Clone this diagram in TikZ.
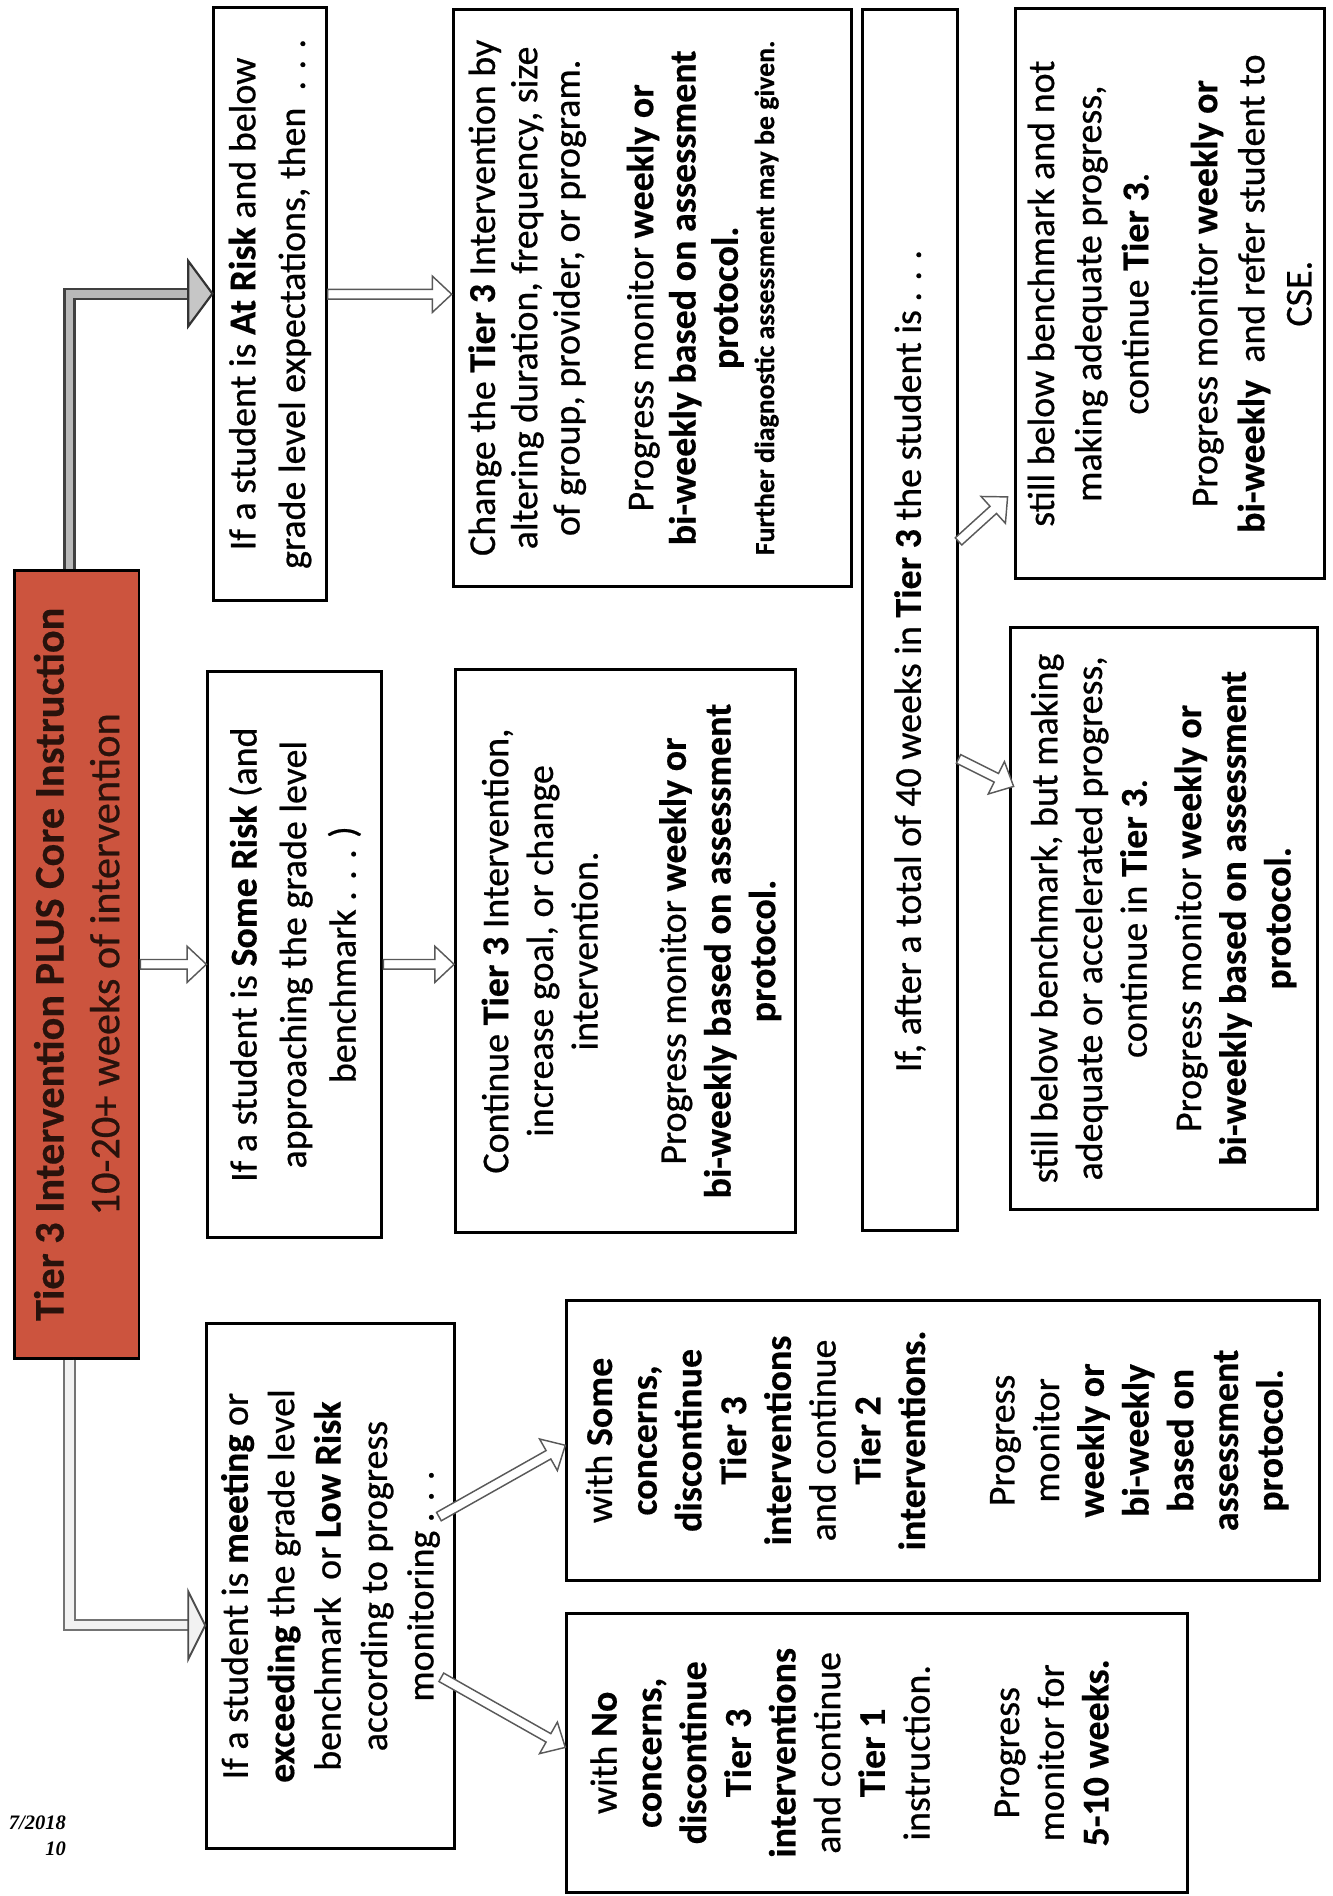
\documentclass[tikz,border=0pt]{standalone}
\usepackage{fontspec}
\setmainfont{Carlito}[UprightFeatures={FakeBold=0.6},BoldFeatures={FakeBold=0.4}]
\newfontfamily\datefont{Liberation Serif}
\usetikzlibrary{calc,fit}
\definecolor{redbox}{RGB}{204,84,62}
\definecolor{titletext}{RGB}{40,18,12}
\tikzset{
  box/.style={draw=black, line width=1.2pt, fill=white, inner sep=0pt},
  txt/.style={rotate=90, align=center, inner sep=0pt},
  hol/.style={draw=black!65, fill=white, line width=0.6pt, line join=miter},
  blk/.style={to path={
    let \p1=($(\tikztotarget)!8pt!(\tikztostart)$) in
    ($(\tikztostart)!2pt!90:(\tikztotarget)$) --
    ($(\p1)!2pt!90:(\tikztotarget)$) --
    ($(\p1)!7.5pt!90:(\tikztotarget)$) --
    (\tikztotarget) --
    ($(\p1)!7.5pt!-90:(\tikztotarget)$) --
    ($(\p1)!2pt!-90:(\tikztotarget)$) --
    ($(\tikztostart)!2pt!-90:(\tikztotarget)$) -- cycle}},
  bentA/.style={draw=black!75, double=gray!55, line width=0.9pt, double distance=3.2pt, line join=miter},
  bentheadA/.style={draw=black!80, fill=gray!45, line width=0.9pt, line join=miter},
  bentB/.style={draw=black!55, double=gray!10, line width=0.8pt, double distance=3.4pt, line join=miter},
  bentheadB/.style={draw=black!70, fill=gray!10, line width=0.8pt, line join=miter}
}
\begin{document}
\begin{tikzpicture}[x=0.5pt,y=-0.5pt]
\fill[white] (0,0) rectangle (1103,1569);
\useasboundingbox (0,0) rectangle (1103,1569);

% boxes
\node[box, fill=redbox, fit={(12,472) (115,1124)}] (red) {};
\node[box, fit={(177,6) (270,497)}] (atrisk) {};
\node[box, fit={(375,8) (705,485)}] (change) {};
\node[box, fit={(172,556) (316,1024)}] (somerisk) {};
\node[box, fit={(377,554) (658,1020)}] (cont) {};
\node[box, fit={(171,1095) (376,1530)}] (meet) {};
\node[box, fit={(714,8) (792,1018)}] (weeks) {};
\node[box, fit={(840,7) (1096,479)}] (notadeq) {};
\node[box, fit={(836,519) (1090,1001)}] (making) {};
\node[box, fit={(469,1076) (1092,1308)}] (somec) {};
\node[box, fit={(469,1335) (983,1566)}] (noc) {};

% texts
\node[txt, text=titletext, font=\fontsize{17.5}{23}\selectfont] (redtxt) at (red.center)
  {\textbf{Tier 3 Intervention PLUS Core Instruction}\\10-20+ weeks of intervention};
\node[txt, font=\fontsize{15.7}{20.5}\selectfont] (atrisktxt) at (atrisk.center)
  {If a student is \textbf{At Risk} and below\\grade level expectations, then~ . . .};
\node[txt, font=\fontsize{15.7}{17.5}\selectfont] (changetxt) at ([xshift=-12pt]change.center)
  {Change the \textbf{Tier 3} Intervention by\\ altering duration, frequency, size\\ of group, provider, or program.\\[13pt]
   Progress monitor \textbf{weekly or}\\ \textbf{bi-weekly based on assessment}\\ \textbf{protocol.}\\[-2.5pt]
   {\fontsize{11.5}{13}\selectfont\bfseries Further diagnostic assessment may be given.}};
\node[txt, font=\fontsize{15.7}{20.5}\selectfont] (somerisktxt) at (somerisk.center)
  {If a student is \textbf{Some Risk} (and\\ approaching the grade level\\ benchmark . . . )};
\node[txt, font=\fontsize{15.7}{18.5}\selectfont] (conttxt) at ([xshift=2.5pt]cont.center)
  {Continue \textbf{Tier 3} Intervention,\\ increase goal, or change\\ intervention.\\[18pt]
   Progress monitor \textbf{weekly or}\\ \textbf{bi-weekly based on assessment}\\ \textbf{protocol.}};
\node[txt, font=\fontsize{15.7}{19.2}\selectfont] (meettxt) at (meet.center)
  {If a student is \textbf{meeting} or\\ \textbf{exceeding} the grade level\\ benchmark~ or \textbf{Low Risk}\\ according to progress\\ monitoring . . .};
\node[txt, font=\fontsize{15.7}{19}\selectfont] (weekstxt) at ([yshift=-17pt]weeks.center)
  {If, after a total of 40 weeks in \textbf{Tier 3} the student is . . .};
\node[txt, font=\fontsize{15.7}{19.5}\selectfont] (notadeqtxt) at (notadeq.center)
  {still below benchmark and not\\ making adequate progress,\\ continue \textbf{Tier 3}.\\[9pt]
   Progress monitor \textbf{weekly or}\\ \textbf{bi-weekly}~ and refer student to\\ CSE.};
\node[txt, font=\fontsize{15.7}{18.5}\selectfont] (makingtxt) at (making.center)
  {still below benchmark, but making\\ adequate or accelerated progress,\\ continue in \textbf{Tier 3}.\\[4pt]
   Progress monitor \textbf{weekly or}\\ \textbf{bi-weekly based on assessment}\\ \textbf{protocol.}};
\node[txt, font=\fontsize{15.7}{18.5}\selectfont] (somectxt) at ([xshift=-2.5pt]somec.center)
  {with \textbf{Some}\\ \textbf{concerns,}\\ \textbf{discontinue}\\ \textbf{Tier 3}\\ \textbf{interventions}\\ and continue\\ \textbf{Tier 2}\\ \textbf{interventions.}\\[18.5pt]
   Progress\\ monitor\\ \textbf{weekly or}\\ \textbf{bi-weekly}\\ \textbf{based on}\\ \textbf{assessment}\\ \textbf{protocol.}};
\node[txt, font=\fontsize{15.7}{18.5}\selectfont] (noctxt) at ([xshift=-11.5pt]noc.center)
  {with \textbf{No}\\ \textbf{concerns,}\\ \textbf{discontinue}\\ \textbf{Tier 3}\\ \textbf{interventions}\\ and continue\\ \textbf{Tier 1}\\ instruction.\\[18.5pt]
   Progress\\ monitor for\\ \textbf{5-10 weeks.}};
\node[anchor=east, align=right, inner sep=0pt, font={\datefont\bfseries\itshape\fontsize{8.5}{11}\selectfont}] (date) at (55,1519) {7/2018\\10};

% bent connectors
\draw[bentA] ([xshift=-3pt]red.north) |- ([shift={(-10pt,4.25pt)}]atrisk.west) coordinate (tb);
\filldraw[bentheadA] ([yshift=13.5pt]tb) -- ([yshift=4.25pt]atrisk.west) -- ([yshift=-13.5pt]tb) -- cycle;
\draw[bentB] ([xshift=-3pt]red.south) |- ([shift={(-7pt,-16.25pt)}]meet.west) coordinate (bb);
\filldraw[bentheadB] ([yshift=14pt]bb) -- ([yshift=-16.25pt]meet.west) -- ([yshift=-14pt]bb) -- cycle;

% straight hollow connectors
\coordinate (h1s) at ([yshift=4pt]atrisk.east);
\coordinate (h1e) at (h1s -| change.west);
\draw[hol] (h1s) to[blk] (h1e);
\coordinate (h2s) at (red.east);
\coordinate (h2e) at (red.east -| somerisk.west);
\draw[hol] (h2s) to[blk] (h2e);
\coordinate (h3s) at (red.east -| somerisk.east);
\coordinate (h3e) at (red.east -| cont.west);
\draw[hol] (h3s) to[blk] (h3e);

% diagonal connectors
\coordinate (d1s) at ([shift={(-7pt,28.75pt)}]meet.east);
\coordinate (d1e) at ([yshift=-2pt]somec.west);
\draw[hol] (d1s) to[blk] (d1e);
\coordinate (d2s) at ([shift={(-6pt,-37.75pt)}]meet.east);
\coordinate (d2e) at ([yshift=2.25pt]noc.west);
\draw[hol] (d2s) to[blk] (d2e);
\coordinate (d3s) at ([yshift=32.5pt]weeks.east);
\coordinate (d3e) at ([shift={(-2.5pt,34.5pt)}]notadeq.south west);
\draw[hol] (d3s) to[blk] (d3e);
\coordinate (d4s) at ([yshift=-57.5pt]weeks.east);
\coordinate (d4e) at ([shift={(2pt,-66.5pt)}]making.north west);
\draw[hol] (d4s) to[blk] (d4e);
\end{tikzpicture}
\end{document}
